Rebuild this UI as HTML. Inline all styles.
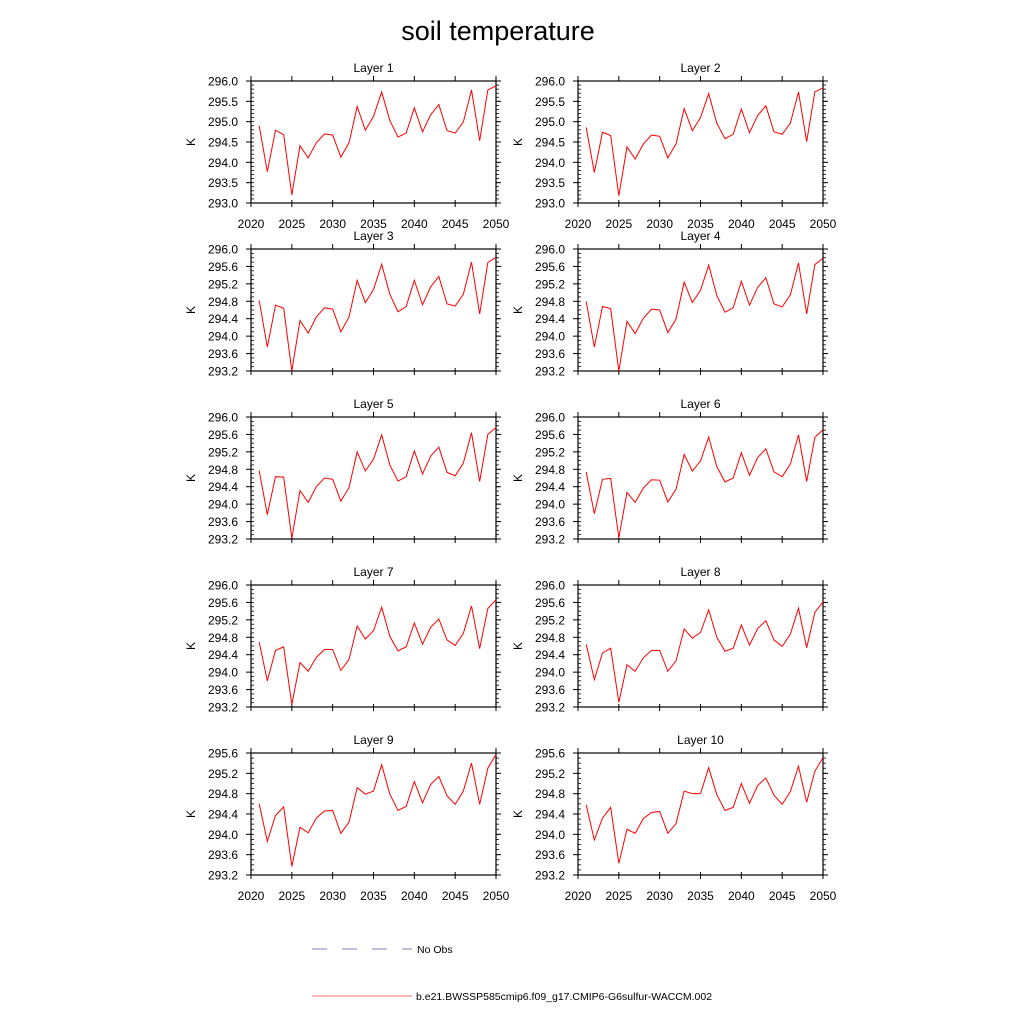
<!DOCTYPE html>
<html><head><meta charset="utf-8"><title>soil temperature</title>
<style>
html,body{margin:0;padding:0;background:#fff;}
svg{display:block;font-family:"Liberation Sans",Arial,sans-serif;}
</style></head>
<body>
<svg id="chart" width="1024" height="1024" viewBox="0 0 1024 1024" xmlns="http://www.w3.org/2000/svg">
<rect width="1024" height="1024" fill="#fff"/>
<text x="498" y="40" font-size="27" text-anchor="middle" fill="#000">soil temperature</text>
<g id="panels"></g>
<g>
  <line x1="312" y1="949" x2="412" y2="949" stroke="#8080c0" stroke-width="1" stroke-dasharray="15,15"/>
  <text x="417" y="953" font-size="10.5" fill="#000">No Obs</text>
  <line x1="312" y1="996" x2="412" y2="996" stroke="#ff7070" stroke-width="1"/>
  <text x="416" y="1000" font-size="10.5" fill="#000">b.e21.BWSSP585cmip6.f09_g17.CMIP6-G6sulfur-WACCM.002</text>
</g>
</svg>
<script>
const years = [2021,2022,2023,2024,2025,2026,2027,2028,2029,2030,2031,2032,2033,2034,2035,2036,2037,2038,2039,2040,2041,2042,2043,2044,2045,2046,2047,2048,2049,2050];
const xTicks = [2020,2025,2030,2035,2040,2045,2050];
const layerNames = ["Layer 1","Layer 2","Layer 3","Layer 4","Layer 5","Layer 6","Layer 7","Layer 8","Layer 9","Layer 10"];
const layer1 = [294.9,293.77,294.79,294.68,293.2,294.41,294.11,294.48,294.7,294.67,294.13,294.48,295.37,294.79,295.13,295.73,295.03,294.62,294.72,295.34,294.75,295.17,295.42,294.78,294.72,294.99,295.78,294.53,295.78,295.88];
const layer2 = [294.86,293.75,294.74,294.66,293.18,294.38,294.08,294.45,294.67,294.64,294.11,294.45,295.32,294.78,295.1,295.69,294.96,294.58,294.69,295.31,294.73,295.15,295.39,294.75,294.69,294.96,295.73,294.51,295.73,295.83];
const layer3 = [294.82,293.75,294.71,294.64,293.2,294.36,294.07,294.44,294.65,294.62,294.1,294.44,295.28,294.77,295.07,295.65,294.96,294.56,294.68,295.28,294.72,295.13,295.37,294.74,294.69,294.96,295.7,294.51,295.69,295.81];
const layer4 = [294.8,293.75,294.68,294.63,293.2,294.34,294.06,294.41,294.62,294.6,294.08,294.39,295.24,294.77,295.05,295.63,294.93,294.55,294.65,295.26,294.71,295.12,295.34,294.74,294.67,294.95,295.68,294.51,295.64,295.79];
const layer5 = [294.77,293.76,294.63,294.62,293.22,294.31,294.04,294.4,294.6,294.57,294.07,294.38,295.2,294.76,295.03,295.59,294.9,294.53,294.63,295.22,294.69,295.1,295.31,294.73,294.65,294.94,295.64,294.52,295.6,295.76];
const layer6 = [294.74,293.78,294.57,294.59,293.23,294.27,294.04,294.37,294.56,294.55,294.05,294.34,295.14,294.76,294.99,295.54,294.86,294.51,294.6,295.18,294.66,295.07,295.27,294.74,294.63,294.92,295.59,294.52,295.53,295.71];
const layer7 = [294.69,293.8,294.5,294.58,293.26,294.22,294.02,294.34,294.52,294.52,294.04,294.29,295.06,294.76,294.95,295.49,294.82,294.49,294.58,295.13,294.64,295.03,295.22,294.74,294.61,294.89,295.52,294.54,295.46,295.66];
const layer8 = [294.64,293.83,294.44,294.55,293.31,294.17,294.02,294.33,294.5,294.5,294.02,294.26,294.99,294.78,294.91,295.43,294.8,294.48,294.55,295.08,294.62,295.0,295.18,294.74,294.59,294.87,295.47,294.56,295.37,295.61];
const layer9 = [294.6,293.86,294.37,294.54,293.37,294.14,294.03,294.32,294.46,294.47,294.02,294.24,294.92,294.79,294.85,295.37,294.79,294.47,294.55,295.04,294.62,294.98,295.14,294.76,294.59,294.85,295.4,294.59,295.3,295.57];
const layer10 = [294.58,293.89,294.32,294.53,293.43,294.1,294.02,294.31,294.43,294.45,294.02,294.21,294.85,294.8,294.8,295.31,294.78,294.47,294.53,295.0,294.61,294.96,295.11,294.77,294.59,294.84,295.34,294.63,295.24,295.51];
const yTicksA = [293.0,293.5,294.0,294.5,295.0,295.5,296.0];
const yTicksB = [293.2,293.6,294.0,294.4,294.8,295.2,295.6,296.0];
const yTicksC = [293.2,293.6,294.0,294.4,294.8,295.2,295.6];

const allLayers = [layer1,layer2,layer3,layer4,layer5,layer6,layer7,layer8,layer9,layer10];
const tickSets = [yTicksA,yTicksA,yTicksB,yTicksB,yTicksB,yTicksB,yTicksB,yTicksB,yTicksC,yTicksC];

const NS = "http://www.w3.org/2000/svg";
const root = document.getElementById("panels");
function mk(tag, attrs, parent){
  const e = document.createElementNS(NS, tag);
  for (const k in attrs) e.setAttribute(k, attrs[k]);
  parent.appendChild(e);
  return e;
}
const colX = [251, 578];
const rowY = [81, 249, 417, 585, 753];
const W = 245, H = 122;

allLayers.forEach((vals, i) => {
  const col = i % 2, row = Math.floor(i / 2);
  const x0 = colX[col], y0 = rowY[row];
  const ticks = tickSets[i];
  const ymin = ticks[0], ymax = ticks[ticks.length - 1];
  const xs = v => x0 + (v - xTicks[0]) / (xTicks[xTicks.length - 1] - xTicks[0]) * W;
  const ys = v => y0 + H - (v - ymin) / (ymax - ymin) * H;
  const g = mk("g", {}, root);
  
  

  const t = mk("text", {x: x0 + W / 2, y: y0 - 9, "font-size": 12, "text-anchor": "middle", fill: "#000"}, g);
  t.textContent = layerNames[i];
  
  

  const yl = mk("text", {x: 0, y: 0, "font-size": 12, "text-anchor": "middle", fill: "#000", transform: "translate(" + (x0 - 56) + "," + (y0 + H / 2) + ") rotate(-90)"}, g);
  yl.textContent = "K";
  
  

  for (let v = ymin; v <= ymax + 1e-6; v += 0.1) {
    const yy = ys(v);
    const m1 = mk("line", {x1: x0, x2: x0 + 3, y1: yy, y2: yy, stroke: "#000", "stroke-width": 0.8}, g);
    
    
    const m2 = mk("line", {x1: x0 + W, x2: x0 + W + 3, y1: yy, y2: yy, stroke: "#000", "stroke-width": 0.8}, g);
    
    
  }
  ticks.forEach(v => {
    const yy = ys(v);
    const tk = mk("line", {x1: x0 - 5, x2: x0 + 1, y1: yy, y2: yy, stroke: "#000", "stroke-width": 1}, g);
    
    
    const tk2 = mk("line", {x1: x0 + W, x2: x0 + W + 5, y1: yy, y2: yy, stroke: "#000", "stroke-width": 1}, g);
    
    
    const lb = mk("text", {x: x0 - 13, y: yy + 4.5, "font-size": 12, "text-anchor": "end", fill: "#000"}, g);
    lb.textContent = v.toFixed(1);
    
    
  });
  xTicks.forEach(v => {
    const xx = xs(v);
    const tb = mk("line", {x1: xx, x2: xx, y1: y0 + H - 3, y2: y0 + H + 4, stroke: "#000", "stroke-width": 1}, g);
    
    
    const tt = mk("line", {x1: xx, x2: xx, y1: y0 - 5, y2: y0, stroke: "#000", "stroke-width": 1}, g);
    
    
    if (row === 0 || row === 4) {
      const lb = mk("text", {x: xx, y: y0 + H + 25, "font-size": 12, "text-anchor": "middle", fill: "#000"}, g);
      lb.textContent = String(v);
      
      
    }
  });
  const fr = mk("rect", {x: x0, y: y0, width: W, height: H, fill: "none", stroke: "#000", "stroke-width": 1.2}, g);
  
  

  const pts = vals.map((v, k) => xs(years[k]).toFixed(2) + "," + ys(v).toFixed(2)).join(" ");
  const pl = mk("polyline", {points: pts, fill: "none", stroke: "#ff0000", "stroke-width": 1}, g);
  
  
});
</script>
</body></html>
